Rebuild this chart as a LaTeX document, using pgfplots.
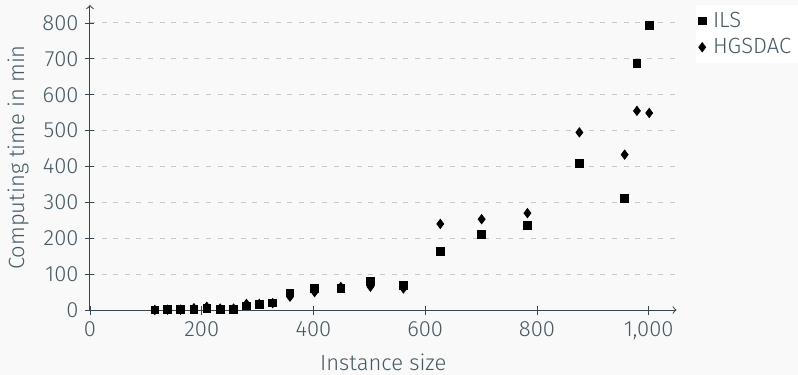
\documentclass[border=0pt]{standalone}
\usepackage{fontspec}
\setmainfont{Fira Sans}[UprightFont=* Light]
\usepackage{pgfplots}
\pgfplotsset{compat=1.18}
\definecolor{bgc}{RGB}{249,249,249}
\definecolor{txt}{RGB}{69,90,100}
\definecolor{axc}{RGB}{55,71,79}
\definecolor{gridc}{RGB}{200,200,200}
\begin{document}
\begin{tikzpicture}[font=\fontsize{11bp}{13bp}\selectfont]
\fill[bgc] (-45bp,-32.5bp) rectangle (354bp,155bp);
\path[use as bounding box] (-45bp,-32.5bp) rectangle (354bp,155bp);
\begin{axis}[
  at={(0,0)}, anchor=south west,
  scale only axis, width=293.3bp, height=152.5bp,
  xmin=0, xmax=1050, ymin=0, ymax=850,
  axis lines=left,
  axis line style={axc, line width=0.5pt, ->},
  xtick={0,200,...,1000}, ytick={0,100,...,800},
  tick align=center, major tick length=4.5bp,
  tick style={axc, line width=0.4pt},
  ymajorgrids,
  grid style={gridc, dash pattern=on 2.5bp off 3.3bp, line width=0.5pt},
  ticklabel style={txt},
  /pgf/number format/assume math mode=true,
  xlabel={Instance size}, ylabel={Computing time in min},
  label style={txt},
  xlabel style={at={(axis description cs:0.5,-0.172)}, anchor=center, inner sep=1bp},
  ylabel style={at={(axis description cs:-0.1227,0.5)}, anchor=center},
  legend style={at={(1,1)}, anchor=north west, xshift=9.5bp, draw=none, fill=white,
    text=txt, inner sep=1.2bp, nodes={inner sep=2bp},
    /tikz/every odd column/.append style={column sep=1.5bp}},
  legend cell align=left,
  legend image code/.code={\draw[#1] plot coordinates {(0bp,0bp)};},
]
\addplot[only marks, mark=square*, mark size=1.9bp, black] coordinates {
(116,0) (139,1) (162,1) (186,2) (209,4) (233,2) (257,1) (280,11) (303,15) (327,20)
(358,48) (402,60) (449,60) (502,79) (561,68) (627,163) (701,210) (783,235)
(876,409) (957,311) (979,688) (1001,793)
};
\addlegendentry{ILS}
\addplot[only marks, mark=diamond*, mark size=2.3bp, black] coordinates {
(116,0) (139,1) (162,1) (186,5) (209,9) (233,4) (257,4) (280,17) (303,17) (327,19)
(358,37) (402,50) (449,64) (502,65) (561,60) (627,240) (701,253) (783,270)
(876,495) (957,433) (979,555) (1001,549)
};
\addlegendentry{HGSDAC}
\end{axis}
\end{tikzpicture}
\end{document}
